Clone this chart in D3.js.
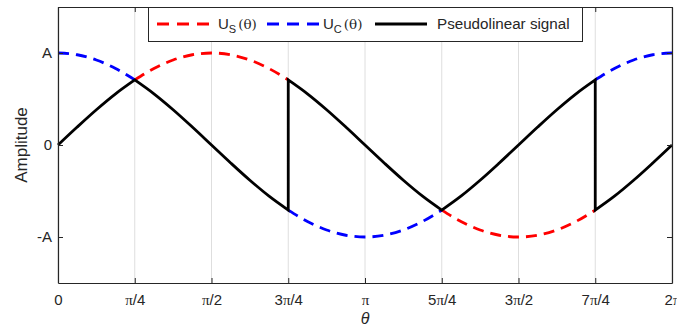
<!DOCTYPE html>
<html>
<head>
<meta charset="utf-8">
<script src="https://cdn.jsdelivr.net/npm/d3@7"></script>
<style>
  body { margin: 0; background: #fff; }
  text { font-family: "Liberation Sans", Arial, sans-serif; fill: #262626; }
</style>
</head>
<body>
<svg id="chart" width="677" height="327"></svg>
<script>
// *** Data (theta in units of pi/4) ***

var theta = [0, 0.25, 0.5, 0.75, 1, 1.25, 1.5, 1.75, 2, 2.25, 2.5, 2.75, 3, 3.25, 3.5, 3.75, 4,
             4.25, 4.5, 4.75, 5, 5.25, 5.5, 5.75, 6, 6.25, 6.5, 6.75, 7, 7.25, 7.5, 7.75, 8];

// dashed parts of U_S (only where it is not used by the signal)
var usValues = [null, null, null, null,
                0.707, 0.831, 0.924, 0.981, 1.000, 0.981, 0.924, 0.831, 0.707,
                null, null, null, null, null, null, null,
                -0.707, -0.831, -0.924, -0.981, -1.000, -0.981, -0.924, -0.831, -0.707,
                null, null, null, null];

// dashed parts of U_C
var ucValues = [1.000, 0.981, 0.924, 0.831, 0.707,
                null, null, null, null, null, null, null,
                -0.707, -0.831, -0.924, -0.981, -1.000, -0.981, -0.924, -0.831, -0.707,
                null, null, null, null, null, null, null,
                0.707, 0.831, 0.924, 0.981, 1.000];

// pseudolinear signal on the same theta grid
// (corners at pi/4 and 5pi/4, jumps at 3pi/4 and 7pi/4)
var signalValues = [0, 0.195, 0.383, 0.556, 0.707, 0.556, 0.383, 0.195, 0, -0.195, -0.383, -0.556, -0.707,
                    0.556, 0.383, 0.195, 0, -0.195, -0.383, -0.556, -0.707, -0.556, -0.383, -0.195, 0,
                    0.195, 0.383, 0.556, 0.707, -0.556, -0.383, -0.195, 0];
var signalBreaks = [1, 3, 5, 7];              // where one smooth piece ends and the next starts
var jumpStart = {3: 0.707, 7: -0.707};        // value right after each jump

var xTickValues = [0, 1, 2, 3, 4, 5, 6, 7, 8];
var xTickNum = ["0", "", "", "3", "", "5", "3", "7", "2"];
var xTickDen = ["", "/4", "/2", "/4", "", "/4", "/2", "/4", ""];
var xTickHasPi = [false, true, true, true, true, true, true, true, true];

var yTickValues = [-1, 0, 1];
var yTickLabels = ["-A", "0", "A"];

// *** Chart ***

var svg = d3.select("#chart");
var margin = {top: 7, right: 5, bottom: 44, left: 58};
var width = 677 - margin.left - margin.right,
    height = 327 - margin.top - margin.bottom;

var x = d3.scaleLinear().domain([0, 8]).range([0, width]);
var y = d3.scaleLinear().domain([-1.5, 1.5]).range([height, 0]);

var chart = svg.append("g")
    .attr("transform", "translate(" + margin.left + "," + margin.top + ")");

// vertical grid
chart.append("g").selectAll("line")
    .data(xTickValues)
    .enter().append("line")
    .attr("x1", d => x(d)).attr("x2", d => x(d))
    .attr("y1", 0).attr("y2", height)
    .attr("stroke", "#dedede")
    .attr("stroke-width", 1);

var usPoints = theta.map((t, i) => [t, usValues[i]]);
var ucPoints = theta.map((t, i) => [t, ucValues[i]]);

var smoothLine = d3.line()
    .defined(d => d[1] !== null)
    .x(d => x(d[0]))
    .y(d => y(d[1]))
    .curve(d3.curveMonotoneX);

chart.append("path")
    .attr("d", smoothLine(usPoints))
    .attr("fill", "none")
    .attr("stroke", "#ff0000")
    .attr("stroke-width", 2.8)
    .attr("stroke-dasharray", "11,7");

chart.append("path")
    .attr("d", smoothLine(ucPoints))
    .attr("fill", "none")
    .attr("stroke", "#0000ff")
    .attr("stroke-width", 2.8)
    .attr("stroke-dasharray", "11,7");

// signal: cut into smooth pieces at the corners and the jumps
var pieces = [[]];
theta.forEach(function (t, i) {
    var piece = pieces[pieces.length - 1];
    piece.push([t, signalValues[i]]);
    if (signalBreaks.indexOf(t) >= 0) {
        var startVal = jumpStart[t] !== undefined ? jumpStart[t] : signalValues[i];
        pieces.push([[t, startVal]]);
    }
});

var sigPath = pieces.map(function (piece, i) {
    var d = smoothLine(piece);
    return i > 0 ? "L" + d.slice(1) : d; // keep one continuous path (vertical jumps)
}).join("");

chart.append("path")
    .attr("d", sigPath)
    .attr("fill", "none")
    .attr("stroke", "#000")
    .attr("stroke-width", 2.8)
    .attr("stroke-linejoin", "miter");

// axes (ticks point inwards, box style)
var xAxisG = chart.append("g")
    .attr("transform", "translate(0," + height + ")")
    .call(d3.axisBottom(x).tickValues(xTickValues).tickSizeInner(-5).tickSizeOuter(0).tickPadding(11).tickFormat(""));

xAxisG.selectAll(".tick text").each(function (d, i) {
    var t = d3.select(this);
    t.append("tspan").text(xTickNum[i]);
    if (xTickHasPi[i]) {
        t.append("tspan").attr("font-family", "'Liberation Serif', 'Times New Roman', serif").attr("font-size", 15).text("π");
    }
    t.append("tspan").text(xTickDen[i]);
});

chart.append("g")
    .call(d3.axisTop(x).tickValues(xTickValues).tickSizeInner(-5).tickSizeOuter(0).tickFormat(""));

chart.append("g")
    .call(d3.axisLeft(y).tickValues(yTickValues).tickSizeInner(-5).tickSizeOuter(0).tickPadding(6)
        .tickFormat((d, i) => yTickLabels[i]));

chart.append("g")
    .attr("transform", "translate(" + width + ",0)")
    .call(d3.axisRight(y).tickValues(yTickValues).tickSizeInner(-5).tickSizeOuter(0).tickFormat(""));

chart.selectAll(".domain").attr("stroke", "#262626").attr("stroke-width", 1.2);
chart.selectAll(".tick line").attr("stroke", "#262626");
chart.selectAll(".tick text").attr("font-size", 15).attr("fill", "#262626")
    .attr("font-family", "'Liberation Sans', Arial, sans-serif");

// labels
svg.append("text")
    .attr("transform", "translate(27," + (margin.top + height / 2) + ") rotate(-90)")
    .attr("text-anchor", "middle")
    .attr("font-size", 17)
    .text("Amplitude");

svg.append("text")
    .attr("x", margin.left + x(4))
    .attr("y", 324)
    .attr("text-anchor", "middle")
    .attr("font-family", "'DejaVu Serif', 'Liberation Serif', serif")
    .attr("font-style", "italic")
    .attr("font-size", 16)
    .text("θ");

// legend
var legend = svg.append("g");
legend.append("rect")
    .attr("x", 148.5).attr("y", 7.5)
    .attr("width", 434).attr("height", 34)
    .attr("fill", "#fff")
    .attr("stroke", "#262626")
    .attr("stroke-width", 1);

var legendY = 24;
function legendLine(x1, x2, color, dash) {
    legend.append("line")
        .attr("x1", x1).attr("x2", x2)
        .attr("y1", legendY).attr("y2", legendY)
        .attr("stroke", color)
        .attr("stroke-width", 2.8)
        .attr("stroke-dasharray", dash);
}
function legendLabel(x0, sub) {
    var t = legend.append("text")
        .attr("x", x0).attr("y", legendY + 5)
        .attr("font-size", 15);
    t.append("tspan").text("U");
    t.append("tspan").attr("dy", 4).attr("font-size", 11).text(sub);
    t.append("tspan").attr("dy", -4).attr("dx", 2)
        .attr("font-family", "'DejaVu Serif', 'Liberation Serif', serif")
        .attr("font-size", 13.5).text("(θ)");
}

legendLine(157, 210, "#ff0000", "12,8");
legendLabel(218, "S");
legendLine(267, 320, "#0000ff", "12,8");
legendLabel(323, "C");
legendLine(375, 427, "#000", null);
legend.append("text")
    .attr("x", 437).attr("y", legendY + 5)
    .attr("font-size", 15.2)
    .text("Pseudolinear signal");
</script>
</body>
</html>
